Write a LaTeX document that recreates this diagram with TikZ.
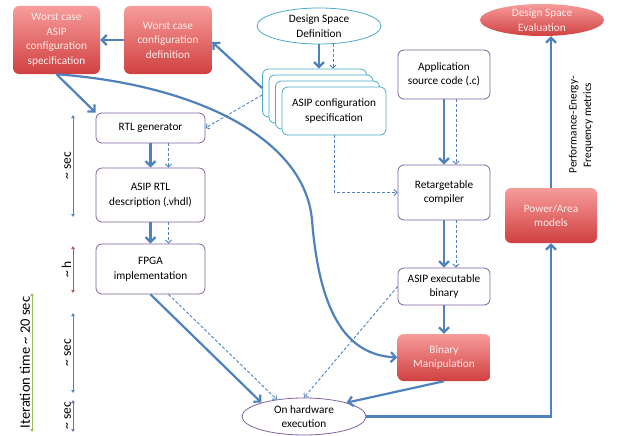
\documentclass[tikz,border=0pt]{standalone}
\usepackage{fontspec}
\setmainfont{Carlito}
\usetikzlibrary{arrows.meta,shapes.geometric}

\definecolor{flowblue}{HTML}{4F81BD}
\definecolor{boxline}{HTML}{8064A2}
\definecolor{cfgline}{HTML}{4BACC6}
\definecolor{boxtop}{HTML}{F79C9B}
\definecolor{boxbot}{HTML}{D04040}
\definecolor{boxtext}{HTML}{FFEAEA}
\definecolor{barblue}{HTML}{4F81BD}
\definecolor{barred}{HTML}{C0504D}
\definecolor{barpurple}{HTML}{8064A2}
\definecolor{bargreen}{HTML}{9BBB59}

\begin{document}
\begin{tikzpicture}[x=1pt,y=-1pt,
    font=\fontsize{11.3}{14.5}\selectfont,
    redbox/.style={rectangle, rounded corners=6pt, top color=boxtop, bottom color=boxbot, text=boxtext, align=center, inner sep=2pt},
    plainbox/.style={rectangle, rounded corners=6pt, draw=boxline, line width=0.8pt, fill=white, align=center, inner sep=2pt},
    cfgbox/.style={rectangle, rounded corners=6pt, draw=cfgline, line width=0.8pt, fill=white, align=center, minimum width=104pt, minimum height=48pt},
    oval/.style={ellipse, align=center, inner sep=0pt},
    flow/.style={draw=flowblue, line width=2.2pt, -{Straight Barb[length=5pt,width=10pt]}},
    dflow/.style={draw=flowblue, line width=0.9pt, dash pattern=on 3pt off 2pt, -{Straight Barb[length=3pt,width=6pt]}},
    timebar/.style={line width=0.9pt, {Latex[length=3pt,width=4pt]}-{Latex[length=3pt,width=4pt]}}]
  \useasboundingbox (0,0) rectangle (618,436);

  \node[redbox, minimum width=87pt, minimum height=68pt] (wspec) at (56.5,40) {Worst case\\ASIP\\configuration\\specification};
  \node[redbox, minimum width=88pt, minimum height=68pt] (wdef) at (168,40) {Worst case\\configuration\\definition};
  \node[oval, draw=cfgline, line width=0.8pt, fill=white, minimum width=124pt, minimum height=36pt] (dsd) at (319,26) {Design Space\\Definition};
  \foreach \k in {3,2,1}
    \node[cfgbox] (cfg\k) at (334-6.5*\k,111-6*\k) {};
  \node[cfgbox] (cfg) at (334,111) {ASIP configuration\\specification};
  \node[plainbox, minimum width=92pt, minimum height=49pt] (app) at (444,74.5) {Application\\source code (.c)};
  \node[oval, top color=boxtop, bottom color=boxbot, text=boxtext, minimum width=124pt, minimum height=32pt] (dse) at (542,20) {Design Space\\Evaluation};
  \node[plainbox, minimum width=109pt, minimum height=30pt] (rtl) at (150.5,128) {RTL generator};
  \node[plainbox, minimum width=109pt, minimum height=54pt] (vhdl) at (150.5,195) {ASIP RTL\\description (.vhdl)};
  \node[plainbox, minimum width=109pt, minimum height=50pt] (fpga) at (150.5,269) {FPGA\\implementation};
  \node[plainbox, minimum width=92pt, minimum height=55pt] (comp) at (444,192.5) {Retargetable\\compiler};
  \node[plainbox, minimum width=92pt, minimum height=37pt] (bin) at (444,286.5) {ASIP executable\\binary};
  \node[redbox, minimum width=93pt, minimum height=47pt] (bman) at (444,357.5) {Binary\\Manipulation};
  \node[redbox, minimum width=92pt, minimum height=55pt] (pa) at (551,215.5) {Power/Area\\models};
  \node[oval, draw=boxline, line width=0.8pt, fill=white, minimum width=124pt, minimum height=37pt] (hw) at (304,416.5) {On hardware\\execution};
  \node[rotate=90, align=center] (metrics) at (581,125) {Performance-Energy-\\Frequency metrics};

  \draw[flow] (wdef.west) -- (wspec.east);
  \draw[flow] ([yshift=5pt]cfg3.west) -- ([yshift=-2pt]wdef.east);
  \draw[dflow] ([yshift=-2pt]cfg3.west) -- (rtl.east);
  \draw[flow] (wspec.south) -- (rtl.north west);
  \draw[flow] (wspec.south) .. controls (200,85) and (305,140) .. (312,220)
    .. controls (320,320) and (350,355) .. (bman.west);
  \coordinate (dsdd) at ([xshift=14pt]dsd.south);
  \draw[flow] (dsd.south) -- (dsd.south |- cfg3.north);
  \draw[dflow] (dsdd) -- (dsdd |- cfg3.north);
  \foreach \a/\b in {rtl/vhdl, vhdl/fpga} {
    \draw[flow] (\a.south) -- (\b.north);
    \draw[dflow] ([xshift=18pt]\a.south) -- ([xshift=18pt]\b.north);
  }
  \foreach \a/\b in {app/comp, comp/bin} {
    \draw[flow] (\a.south) -- (\b.north);
    \draw[dflow] ([xshift=12pt]\a.south) -- ([xshift=12pt]\b.north);
  }
  \draw[flow] (bin.south) -- (bman.north);
  \draw[dflow] (cfg.south) |- (comp.west);
  \draw[flow] (fpga.south) -- (hw.162);
  \draw[dflow] ([xshift=18pt]fpga.south) -- (hw.148);
  \draw[dflow] (bin.west) -- (hw.north);
  \draw[flow] (bman.south) -- (hw.18);
  \draw[flow] (hw.east) -| (pa.south);
  \draw[flow] (pa.north) -- (pa.north |- dse.south);

  % time scales
  \foreach \i/\ya/\yb/\col/\lab in {1/115/217/barblue/{\textasciitilde{} sec},
      2/246/293/barred/{\textasciitilde{} h}, 3/313/393/barblue/{\textasciitilde{} sec},
      4/400/432/barpurple/{\textasciitilde{} sec}} {
    \coordinate (bar\i a) at (73,\ya);
    \coordinate (bar\i b) at (73,\yb);
    \draw[timebar, \col] (bar\i a) -- (bar\i b)
      node[midway, above, rotate=90, text=black, inner sep=1.5pt, font=\fontsize{13.5}{16}\selectfont] {\lab};
  }
  \coordinate (total a) at (32,293);
  \coordinate (total b) at (32,432);
  \draw[timebar, bargreen] (total a) -- (total b)
    node[midway, above, rotate=90, text=black, inner sep=1.5pt, font=\fontsize{14.5}{17}\selectfont] {Iteration time \textasciitilde{} 20 sec};
\end{tikzpicture}
\end{document}
